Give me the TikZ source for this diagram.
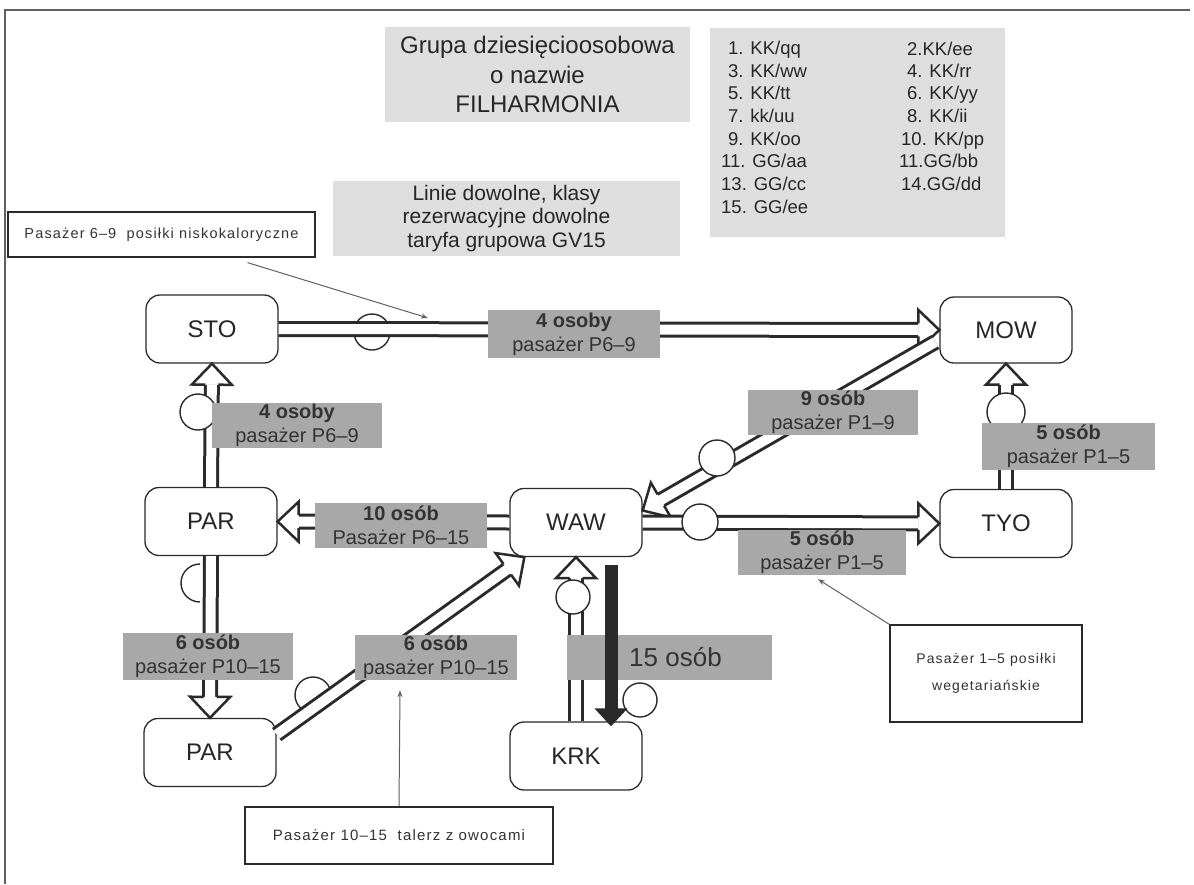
\documentclass[tikz,border=0pt]{standalone}
\usepackage{fontspec}
\setmainfont{Liberation Sans}
\newfontfamily\spacedfont[LetterSpace=8]{Liberation Sans}
\usetikzlibrary{calc,arrows.meta}
\definecolor{dk}{HTML}{2A2A2A}
\definecolor{boxgray}{HTML}{DEDEDE}
\definecolor{labgray}{HTML}{A8A8A8}
\definecolor{labtext}{HTML}{333333}
\definecolor{framegray}{HTML}{606060}
\tikzset{
  city/.style={draw=dk, line width=1.3pt, rounded corners=14pt, fill=white, minimum width=132pt, minimum height=68pt, inner sep=0pt, font=\fontsize{24}{28}\selectfont, text=black!85},
  infobox/.style={fill=boxgray, inner sep=0pt, align=center, text=black!85},
  lab/.style={fill=labgray, inner sep=0pt, align=center, text=labtext, font=\fontsize{20}{24}\selectfont},
  note/.style={draw=dk, line width=1.2pt, fill=white, inner sep=0pt, align=center, text=black!80},
  shaft/.style={draw=dk, line width=3pt, double=white, double distance=10pt},
  headst/.style={draw=dk, fill=white, line width=2.5pt, line join=miter},
  ring/.style={draw=dk, line width=1.4pt},
  lead/.style={draw=framegray, line width=1pt, -{Stealth[length=7pt,width=5pt]}},
  bigarrow/.style={draw=dk, line width=13pt, -{Triangle[length=18pt,width=32pt]}},
  item/.style={anchor=base west, inner sep=0pt, font=\fontsize{18.5}{22}\selectfont, text=black!85},
}
\newcommand{\dblarrow}[2]{%
  \coordinate (da-s) at (#1);
  \coordinate (da-e) at (#2);
  \coordinate (da-b) at ($(da-e)!21pt!(da-s)$);
  \draw[shaft] (da-s) -- (da-b);
  \filldraw[headst] ($(da-b)!6.5pt!90:(da-e)$) -- ($(da-b)!20pt!90:(da-e)$) -- (da-e) -- ($(da-b)!20pt!-90:(da-e)$) -- ($(da-b)!6.5pt!-90:(da-e)$);
}
\begin{document}
\begin{tikzpicture}[x=1pt,y=-1pt]
\useasboundingbox (0,0) rectangle (1194,884);
\draw[framegray, line width=1.2pt] (5,884) -- (5,10) -- (1190,10);

% information boxes
\node[infobox, minimum width=305pt, minimum height=95pt, font=\fontsize{24}{29.5}\selectfont] (title) at (537.5,74.5) {Grupa dziesięcioosobowa\\o nazwie\\FILHARMONIA};
\node[infobox, minimum width=295pt, minimum height=209pt] (list) at (857.5,132.5) {};
\node[item] (i1) at (728,54) {1. KK/qq};
\node[item] (i3) at (728,77) {3. KK/ww};
\node[item] (i5) at (728,99) {5. KK/tt};
\node[item] (i7) at (728,122) {7. kk/uu};
\node[item] (i9) at (728,145) {9. KK/oo};
\node[item] (i11) at (721,167) {11. GG/aa};
\node[item] (i13) at (721,190) {13. GG/cc};
\node[item] (i15) at (721,213) {15. GG/ee};
\node[item] (i2) at (907,55) {2.KK/ee};
\node[item] (i4) at (907,77) {4. KK/rr};
\node[item] (i6) at (907,99) {6. KK/yy};
\node[item] (i8) at (907,122) {8. KK/ii};
\node[item] (i10) at (901,145) {10. KK/pp};
\node[item] (i12) at (899,167) {11.GG/bb};
\node[item] (i14) at (901,190) {14.GG/dd};
\node[infobox, minimum width=347pt, minimum height=75pt, font=\fontsize{21}{23.5}\selectfont] (linie) at (506.5,218.5) {Linie dowolne, klasy\\rezerwacyjne dowolne\\taryfa grupowa GV15};

% notes
\node[note, minimum width=307pt, minimum height=45pt, font=\spacedfont\fontsize{14.5}{17}\selectfont] (p69) at (161.5,234.5) {Pasażer 6–9~ posiłki niskokaloryczne};
\node[note, minimum width=192pt, minimum height=97pt, font=\spacedfont\fontsize{14}{27}\selectfont] (p15) at (986,673.5) {Pasażer 1–5 posiłki\\wegetariańskie};
\node[note, minimum width=308pt, minimum height=57pt, font=\spacedfont\fontsize{15}{18}\selectfont] (tal) at (399,835.5) {Pasażer 10–15~ talerz z owocami};

% cities
\node[city] (sto) at (212,329) {STO};
\node[city, minimum height=66pt] (mow) at (1006,330) {MOW};
\node[city] (par1) at (211,521.5) {PAR};
\node[city] (waw) at (576,522.5) {WAW};
\node[city] (tyo) at (1006,523.5) {TYO};
\node[city] (par2) at (210,752.5) {PAR};
\node[city] (krk) at (576,756) {KRK};

% rings under lines
\draw[ring] (372,332) circle (18pt);
\draw[ring] (200,564) arc[start angle=90, end angle=270, radius=19pt];
\draw[ring] (313,695) circle (18pt);

% connectors
\coordinate (e5s) at ($(par2.east)+(0,-18)$);
\coordinate (e5e) at ($(waw.south west)+(15,0)$);
\coordinate (e7s) at ($(mow.west)+(-4,12)$);
\coordinate (e7e) at ($(waw.east)+(0,-12)$);
\dblarrow{sto.east}{mow.west}
\dblarrow{par1.north}{sto.south}
\dblarrow{waw.west}{par1.east}
\dblarrow{par1.south}{par2.north}
\dblarrow{e5s}{e5e}
\dblarrow{krk.north}{waw.south}
\dblarrow{e7s}{e7e}
\dblarrow{waw.east}{tyo.west}
\dblarrow{tyo.north}{mow.south}

% rings over lines
\filldraw[ring, fill=white] (198,412) circle (18pt);
\filldraw[ring, fill=white] (573,597) circle (17pt);
\filldraw[ring, fill=white] (640,700) circle (17pt);
\filldraw[ring, fill=white] (717,458) circle (18pt);
\filldraw[ring, fill=white] (700,522) circle (18pt);
\filldraw[ring, fill=white] (1006,412) circle (19pt);

% labels
\node[lab, minimum width=172pt, minimum height=48pt] (l1) at (574,334) {\textbf{4 osoby}\\pasażer P6–9};
\node[lab, minimum width=170pt, minimum height=45pt] (l2) at (297,425.5) {\textbf{4 osoby}\\pasażer P6–9};
\node[lab, minimum width=172pt, minimum height=45pt] (l3) at (401,525.5) {\textbf{10 osób}\\Pasażer P6–15};
\node[lab, minimum width=170pt, minimum height=47pt] (l4) at (208,656.5) {\textbf{6 osób}\\pasażer P10–15};
\node[lab, minimum width=162pt, minimum height=45pt] (l5) at (436,657.5) {\textbf{6 osób}\\pasażer P10–15};
\node[lab, minimum width=205pt, minimum height=45pt, font=\fontsize{26}{30}\selectfont] (l6) at (669.5,657.5) {\hspace*{12pt}15 osób};
\node[lab, minimum width=170pt, minimum height=45pt] (l7) at (833,412.5) {\textbf{9 osób}\\pasażer P1–9};
\node[lab, minimum width=168pt, minimum height=45pt] (l8) at (822,552.5) {\textbf{5 osób}\\pasażer P1–5};
\node[lab, minimum width=173pt, minimum height=47pt] (l9) at (1068.5,446.5) {\textbf{5 osób}\\pasażer P1–5};

% thick arrow WAW -> KRK
\coordinate (tks) at ($(waw.south)+(35,8)$);
\coordinate (tke) at ($(krk.north)+(35,5)$);
\draw[bigarrow] (tks) -- (tke);

% leaders
\coordinate (t1) at (428,318);
\draw[lead] ($(p69.south)+(86,5)$) -- (t1);
\coordinate (t2) at ($(l8.south)+(-4,4)$);
\draw[lead] (p15.north west) -- (t2);
\coordinate (t3) at ($(l5.south)+(-36,10)$);
\draw[lead] (tal.north) -- (t3);
\end{tikzpicture}
\end{document}
